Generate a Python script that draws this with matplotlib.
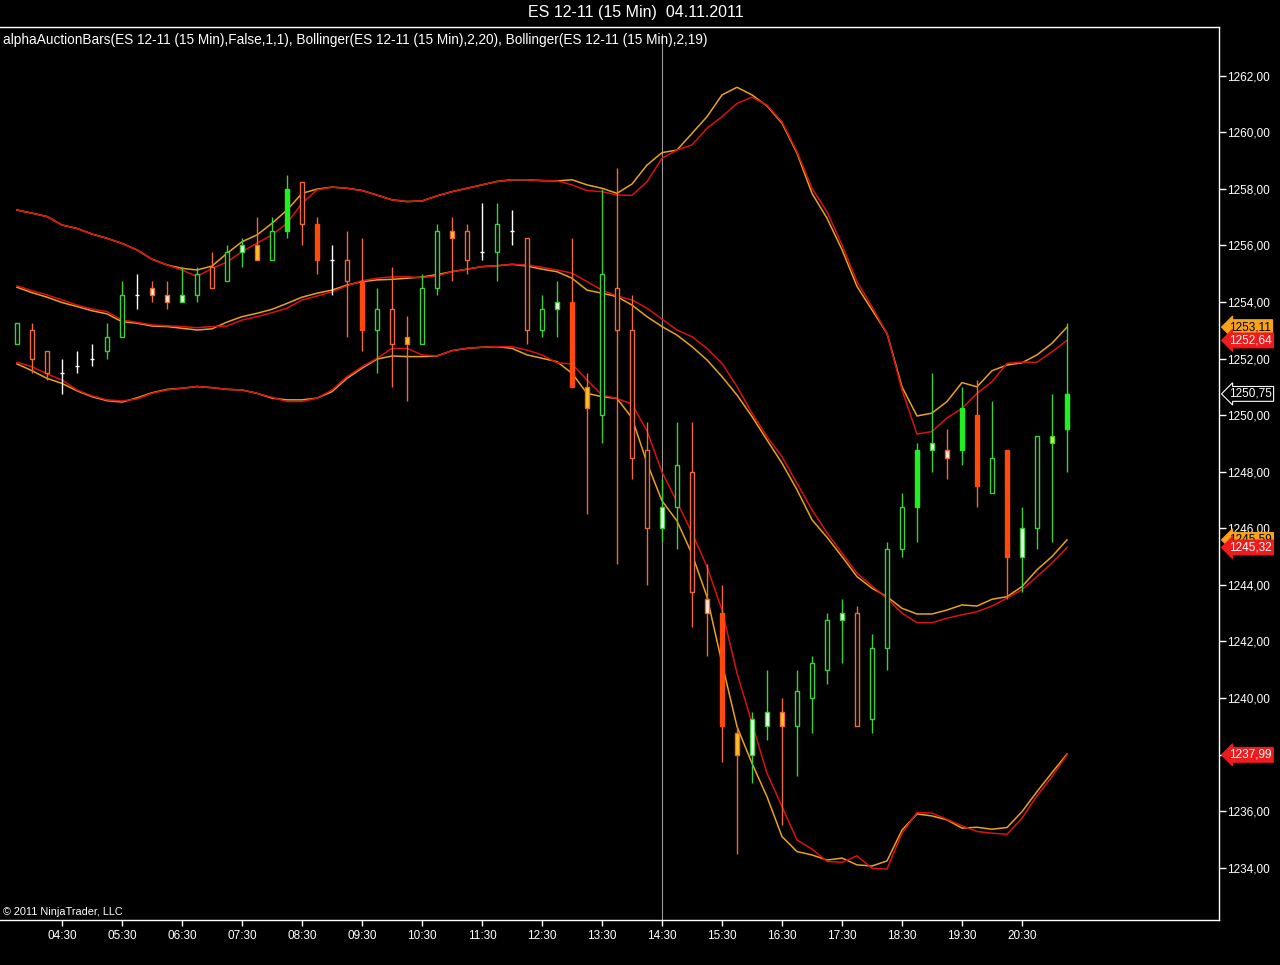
import matplotlib
matplotlib.use("Agg")
import matplotlib.pyplot as plt
import matplotlib.transforms as mtransforms
import numpy as np
import pandas as pd

plt.rcParams['font.family'] = ['Liberation Sans', 'DejaVu Sans']

# 15 min bars, 04.11.2011
times = pd.date_range('2011-11-04 03:45', periods=71, freq='15min')

opens = [1252.5, 1253.0, 1252.25, 1251.5, 1251.75, 1252.0, 1252.25, 1252.75, 1254.25, 1254.5,
         1254.25, 1254.0, 1254.25, 1255.25, 1254.75, 1255.75, 1256.0, 1255.5, 1256.5, 1258.25,
         1256.75, 1255.5, 1255.5, 1254.75, 1253.0, 1253.75, 1252.75, 1252.5, 1254.5, 1256.5,
         1256.5, 1255.75, 1255.75, 1256.5, 1256.25, 1253.0, 1253.75, 1254.0, 1251.0, 1250.0,
         1254.5, 1253.0, 1248.75, 1246.0, 1246.75, 1248.0, 1243.5, 1243.0, 1238.75, 1238.0,
         1239.0, 1239.5, 1239.0, 1240.0, 1241.0, 1242.75, 1243.0, 1239.25, 1241.75, 1245.25,
         1246.75, 1248.75, 1248.75, 1248.75, 1250.0, 1247.25, 1248.75, 1245.0, 1246.0, 1249.0,
         1249.5]
highs = [1253.25, 1253.25, 1252.25, 1252.0, 1252.25, 1252.5, 1253.25, 1254.75, 1255.0, 1254.75,
         1254.75, 1255.25, 1255.25, 1255.75, 1256.0, 1256.25, 1257.0, 1257.0, 1258.5, 1258.25,
         1257.0, 1256.0, 1256.5, 1256.25, 1254.5, 1255.25, 1253.5, 1255.0, 1256.75, 1257.0,
         1256.75, 1257.5, 1257.5, 1257.25, 1256.25, 1254.25, 1254.75, 1256.25, 1251.5, 1258.0,
         1258.75, 1254.25, 1249.75, 1247.75, 1249.75, 1249.75, 1244.75, 1244.0, 1239.0, 1239.5,
         1241.0, 1240.0, 1241.0, 1241.5, 1243.0, 1243.5, 1243.25, 1242.25, 1245.5, 1247.25,
         1249.0, 1251.5, 1249.5, 1251.0, 1251.25, 1250.5, 1248.75, 1246.75, 1249.25, 1250.75,
         1253.25]
lows = [1252.5, 1251.5, 1251.25, 1250.75, 1251.5, 1251.75, 1252.0, 1252.75, 1253.75, 1254.0,
        1253.75, 1254.0, 1254.0, 1254.5, 1254.75, 1255.25, 1255.5, 1255.5, 1256.25, 1256.0,
        1255.0, 1254.25, 1252.75, 1252.25, 1251.5, 1251.0, 1250.5, 1252.5, 1254.25, 1254.75,
        1255.0, 1255.5, 1254.75, 1256.0, 1252.5, 1252.75, 1252.75, 1251.0, 1246.5, 1249.0,
        1244.75, 1247.75, 1244.0, 1245.5, 1245.25, 1242.5, 1241.5, 1237.75, 1234.5, 1237.0,
        1238.5, 1235.5, 1237.25, 1238.75, 1240.5, 1241.25, 1239.0, 1238.75, 1241.0, 1245.0,
        1245.5, 1248.0, 1247.75, 1248.25, 1246.75, 1247.25, 1243.5, 1243.75, 1245.25, 1245.5,
        1248.0]
closes = [1253.25, 1252.0, 1251.5, 1251.5, 1251.75, 1252.0, 1252.75, 1254.25, 1254.25, 1254.25,
          1254.0, 1254.25, 1255.0, 1254.5, 1255.75, 1256.0, 1255.5, 1256.5, 1258.0, 1256.75,
          1255.5, 1255.5, 1254.75, 1253.0, 1253.75, 1252.5, 1252.5, 1254.5, 1256.5, 1256.25,
          1255.5, 1255.75, 1256.75, 1256.5, 1253.0, 1253.75, 1254.0, 1251.0, 1250.25, 1255.0,
          1253.0, 1248.5, 1246.0, 1246.75, 1248.25, 1243.75, 1243.0, 1239.0, 1238.0, 1239.25,
          1239.5, 1239.0, 1240.25, 1241.25, 1242.75, 1243.0, 1239.0, 1241.75, 1245.25, 1246.75,
          1248.75, 1249.0, 1248.5, 1250.25, 1247.5, 1248.5, 1245.0, 1246.0, 1249.25, 1249.25,
          1250.75]
# alphaAuctionBars colouring
styles = ['gh', 'oh', 'oh', 'w', 'w', 'w', 'gh', 'gh', 'w', 'po',
          'po', 'pg', 'gh', 'oh', 'gh', 'pg', 'y', 'gh', 'gf', 'oh',
          'of', 'w', 'oh', 'of', 'gh', 'oh', 'y', 'gh', 'gh', 'y',
          'oh', 'w', 'gh', 'w', 'oh', 'gh', 'pg', 'of', 'y', 'gh',
          'oh', 'oh', 'oh', 'pg', 'gh', 'oh', 'po', 'of', 'y', 'pg',
          'pg', 'y', 'gh', 'gh', 'gh', 'pg', 'oh', 'gh', 'gh', 'gh',
          'gf', 'pg', 'po', 'gf', 'of', 'gh', 'of', 'pg', 'gh', 'yg',
          'gf']

# Bollinger(2,20) - orange
bb20_upper = [1257.25, 1257.14, 1257.02, 1256.72, 1256.60, 1256.40, 1256.25, 1256.07, 1255.84, 1255.51,
              1255.31, 1255.19, 1255.13, 1255.27, 1255.72, 1256.13, 1256.37, 1256.78, 1257.25, 1257.84,
              1257.99, 1258.06, 1258.02, 1257.94, 1257.78, 1257.61, 1257.55, 1257.57, 1257.75, 1257.90,
              1258.02, 1258.14, 1258.26, 1258.32, 1258.32, 1258.29, 1258.28, 1258.32, 1258.14, 1258.02,
              1257.84, 1258.17, 1258.84, 1259.28, 1259.37, 1259.96, 1260.55, 1261.32, 1261.59, 1261.32,
              1260.93, 1260.32, 1259.26, 1257.84, 1256.96, 1255.85, 1254.55, 1253.72, 1252.89, 1251.00,
              1249.97, 1250.07, 1250.48, 1251.15, 1251.00, 1251.57, 1251.77, 1251.85, 1252.13, 1252.54,
              1253.11]
bb20_middle = [1254.52, 1254.33, 1254.17, 1253.98, 1253.84, 1253.69, 1253.58, 1253.30, 1253.25, 1253.15,
               1253.13, 1253.07, 1253.01, 1253.05, 1253.29, 1253.48, 1253.60, 1253.74, 1253.95, 1254.17,
               1254.31, 1254.42, 1254.60, 1254.72, 1254.78, 1254.80, 1254.84, 1254.88, 1254.97, 1255.07,
               1255.16, 1255.25, 1255.28, 1255.33, 1255.27, 1255.16, 1255.07, 1254.84, 1254.42, 1254.31,
               1254.19, 1253.89, 1253.48, 1253.13, 1252.83, 1252.42, 1251.95, 1251.36, 1250.71, 1249.95,
               1249.12, 1248.30, 1247.36, 1246.30, 1245.68, 1245.00, 1244.29, 1243.88, 1243.58, 1243.17,
               1242.97, 1242.97, 1243.11, 1243.29, 1243.25, 1243.49, 1243.58, 1243.94, 1244.53, 1245.00,
               1245.59]
bb20_lower = [1251.81, 1251.57, 1251.30, 1251.12, 1250.86, 1250.65, 1250.51, 1250.46, 1250.61, 1250.79,
              1250.91, 1250.95, 1251.01, 1250.97, 1250.91, 1250.89, 1250.77, 1250.60, 1250.54, 1250.54,
              1250.60, 1250.83, 1251.30, 1251.66, 1251.98, 1252.09, 1252.07, 1252.07, 1252.09, 1252.28,
              1252.36, 1252.40, 1252.42, 1252.36, 1252.13, 1252.01, 1251.89, 1251.48, 1250.77, 1250.65,
              1250.59, 1249.90, 1248.31, 1246.97, 1246.26, 1245.09, 1243.58, 1241.23, 1238.99, 1237.69,
              1236.51, 1235.10, 1234.57, 1234.45, 1234.27, 1234.34, 1234.10, 1234.06, 1234.24, 1235.33,
              1235.90, 1235.83, 1235.69, 1235.40, 1235.43, 1235.36, 1235.42, 1235.98, 1236.69, 1237.36,
              1238.02]
# Bollinger(2,19) - red
bb19_upper = [1257.25, 1257.14, 1257.02, 1256.72, 1256.60, 1256.40, 1256.25, 1256.07, 1255.84, 1255.51,
              1255.31, 1255.13, 1254.90, 1255.19, 1255.41, 1255.78, 1256.08, 1256.37, 1256.78, 1257.49,
              1257.96, 1258.06, 1258.02, 1257.94, 1257.78, 1257.61, 1257.55, 1257.57, 1257.75, 1257.90,
              1258.02, 1258.14, 1258.26, 1258.32, 1258.32, 1258.29, 1258.28, 1258.14, 1257.94, 1257.90,
              1257.78, 1257.77, 1258.25, 1259.08, 1259.37, 1259.55, 1260.14, 1260.55, 1261.02, 1261.24,
              1260.96, 1260.37, 1259.31, 1258.02, 1257.19, 1256.02, 1254.72, 1253.83, 1252.89, 1250.89,
              1249.33, 1249.42, 1249.90, 1250.24, 1250.77, 1251.18, 1251.83, 1251.87, 1251.87, 1252.24,
              1252.64]
bb19_middle = [1254.57, 1254.40, 1254.25, 1254.07, 1253.89, 1253.75, 1253.66, 1253.36, 1253.28, 1253.19,
               1253.16, 1253.13, 1253.09, 1253.13, 1253.15, 1253.36, 1253.48, 1253.62, 1253.78, 1254.07,
               1254.21, 1254.36, 1254.57, 1254.75, 1254.84, 1254.89, 1254.89, 1254.86, 1254.92, 1255.07,
               1255.16, 1255.25, 1255.28, 1255.33, 1255.31, 1255.23, 1255.13, 1255.02, 1254.72, 1254.42,
               1254.21, 1254.07, 1253.78, 1253.39, 1253.01, 1252.77, 1252.36, 1251.83, 1251.01, 1250.07,
               1249.24, 1248.53, 1247.59, 1246.65, 1245.84, 1245.12, 1244.41, 1243.96, 1243.53, 1243.00,
               1242.66, 1242.66, 1242.82, 1242.94, 1243.05, 1243.25, 1243.53, 1243.83, 1244.29, 1244.77,
               1245.32]
bb19_lower = [1251.87, 1251.71, 1251.46, 1251.24, 1250.89, 1250.68, 1250.54, 1250.50, 1250.57, 1250.77,
              1250.89, 1250.95, 1251.01, 1250.97, 1250.91, 1250.89, 1250.77, 1250.63, 1250.48, 1250.48,
              1250.60, 1250.89, 1251.36, 1251.71, 1252.01, 1252.36, 1252.36, 1252.13, 1252.09, 1252.28,
              1252.36, 1252.40, 1252.42, 1252.42, 1252.30, 1252.13, 1251.85, 1251.81, 1251.24, 1250.71,
              1250.59, 1250.39, 1249.44, 1247.99, 1246.93, 1245.84, 1244.64, 1243.11, 1240.88, 1239.11,
              1237.34, 1236.16, 1234.98, 1234.66, 1234.22, 1234.19, 1234.42, 1233.98, 1233.95, 1235.22,
              1235.95, 1235.93, 1235.71, 1235.48, 1235.28, 1235.22, 1235.18, 1235.75, 1236.54, 1237.22,
              1237.99]

GREEN = '#3cd03c'
GREEN_FILL = '#1ff01f'
ORANGE = '#ee6a3a'
ORANGE_FILL = '#ff4a0c'
YELLOW = '#ffc81e'
BAND20 = '#e8a21e'
BAND19 = '#d81212'

# style -> (body face, body edge, wick colour)
candle_cols = {
    'gh': ('black', GREEN, GREEN),
    'gf': (GREEN_FILL, GREEN_FILL, GREEN),
    'oh': ('black', ORANGE, ORANGE),
    'of': (ORANGE_FILL, ORANGE_FILL, ORANGE),
    'y': (YELLOW, ORANGE, ORANGE),
    'yg': ('#e6ee10', GREEN, GREEN),
    'pg': ('#f2fff2', GREEN, GREEN),
    'po': ('#fff2e6', ORANGE, ORANGE),
    'w': ('white', 'white', 'white'),
}

fig = plt.figure(figsize=(12.8, 9.65), dpi=100, facecolor='black')
ax = fig.add_axes([0.0, 0.0466, 0.9523, 0.9251])
ax.set_facecolor('black')

x = np.arange(len(times))

# bands
for vals, col in [(bb20_upper, BAND20), (bb20_middle, BAND20), (bb20_lower, BAND20),
                  (bb19_upper, BAND19), (bb19_middle, BAND19), (bb19_lower, BAND19)]:
    ax.plot(x, vals, color=col, lw=1.1, zorder=2)

# crosshair at 14:30
ax.axvline(43, ymax=0.993, color='#9a9a9a', lw=0.8, zorder=1)

w = 0.33
for i in range(len(x)):
    o, h, l, c = opens[i], highs[i], lows[i], closes[i]
    face, edge, wick = candle_cols[styles[i]]
    ax.vlines(x[i], l, h, color=wick, lw=1.0, zorder=3)
    if styles[i] == 'w':
        ax.hlines(c, x[i] - w / 2, x[i] + w / 2, color='white', lw=1.0, zorder=4)
        continue
    lo, hi = min(o, c), max(o, c)
    ax.bar(x[i], hi - lo, bottom=lo, width=w, facecolor=face, edgecolor=edge,
           linewidth=1.0, zorder=4)

ax.set_xlim(-1.133, 80.13)
ax.set_ylim(1232.15, 1263.71)

# axes styling
for side in ['top', 'right', 'bottom']:
    ax.spines[side].set_color('white')
    ax.spines[side].set_linewidth(1.0)
ax.spines['left'].set_visible(False)

ax.yaxis.tick_right()
ax.set_yticks(np.arange(1234, 1263, 2))
ax.yaxis.set_major_formatter(plt.FuncFormatter(lambda v, p: f"{v:.2f}".replace('.', ',')))
ax.tick_params(axis='y', colors='white', labelsize=8.5, length=5, width=1, pad=1)

xt = np.arange(3, len(times), 4)
ax.set_xticks(xt)
ax.set_xticklabels([times[k].strftime('%H:%M') for k in xt])
ax.tick_params(axis='x', colors='white', labelsize=8.5, length=4, width=1, pad=3)

# price markers on the right axis
blend = mtransforms.blended_transform_factory(ax.transAxes, ax.transData)
def fmt(v):
    return f"{v:.2f}".replace('.', ',')

markers = [
    (bb20_upper[-1], '#f7a21b', 'black', '#f7a21b'),
    (bb19_upper[-1], '#ee1c1c', 'white', '#ee1c1c'),
    (closes[-1], 'black', 'white', 'white'),
    (bb20_middle[-1], '#f7a21b', 'black', '#f7a21b'),
    (bb19_middle[-1], '#ee1c1c', 'white', '#ee1c1c'),
    (bb19_lower[-1], '#ee1c1c', 'white', '#ee1c1c'),
]
for val, fc, tc, ec in markers:
    ax.text(1.0085, val, fmt(val), transform=blend, ha='left', va='center',
            fontsize=8.5, color=tc, zorder=6,
            bbox=dict(boxstyle='larrow,pad=0.12', fc=fc, ec=ec, lw=0.8))

fig.text(0.497, 1 - 13 / 965, 'ES 12-11 (15 Min)  04.11.2011', color='white',
         ha='center', va='center', fontsize=11.5)
fig.text(3 / 1280, 1 - 40 / 965,
         'alphaAuctionBars(ES 12-11 (15 Min),False,1,1), Bollinger(ES 12-11 (15 Min),2,20), '
         'Bollinger(ES 12-11 (15 Min),2,19)',
         color='white', ha='left', va='center', fontsize=9.8)
fig.text(3 / 1280, 1 - 912 / 965, '\u00a9 2011 NinjaTrader, LLC', color='white',
         ha='left', va='center', fontsize=7.8)

fig.savefig('out.png', dpi=100, facecolor='black')
